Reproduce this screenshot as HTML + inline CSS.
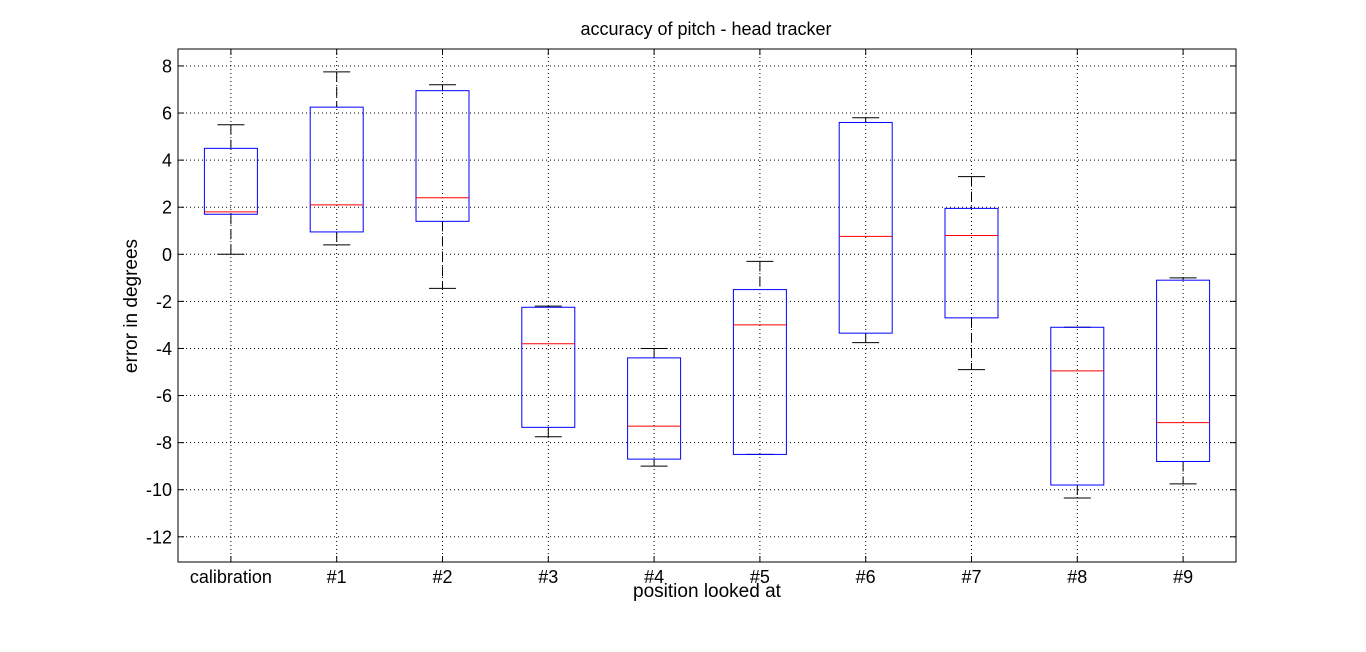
<!DOCTYPE html>
<html><head><meta charset="utf-8"><style>
html,body{margin:0;padding:0;background:#fff;}
svg{display:block;font-family:"Liberation Sans",sans-serif;}
</style></head><body>
<svg id="chart" width="1366" height="652" viewBox="0 0 1366 652" xmlns="http://www.w3.org/2000/svg">
<rect x="0" y="0" width="1366" height="652" fill="#fff"/>
<text x="706" y="35" font-size="18" text-anchor="middle">accuracy of pitch - head tracker</text>
<text x="707" y="597" font-size="19" text-anchor="middle">position looked at</text>
<text transform="translate(137,306) rotate(-90)" font-size="19" text-anchor="middle">error in degrees</text>
<g id="grid"></g>
<g id="boxes"></g>
<g id="axes"></g>
</svg>
<script>
const categories = ["calibration","#1","#2","#3","#4","#5","#6","#7","#8","#9"];
const whiskerLow = [0, 0.4, -1.45, -7.75, -9.0, -8.5, -3.75, -4.9, -10.35, -9.75];
const q1 = [1.7, 0.95, 1.4, -7.35, -8.7, -8.5, -3.35, -2.7, -9.8, -8.8];
const median = [1.8, 2.1, 2.4, -3.8, -7.3, -3.0, 0.76, 0.8, -4.95, -7.15];
const q3 = [4.5, 6.25, 6.95, -2.25, -4.4, -1.5, 5.6, 1.95, -3.1, -1.1];
const whiskerHigh = [5.5, 7.75, 7.2, -2.2, -4.0, -0.3, 5.8, 3.3, -3.1, -1.0];
const yTicks = [8,6,4,2,0,-2,-4,-6,-8,-10,-12];
const yTickLabels = ["8","6","4","2","0","-2","-4","-6","-8","-10","-12"];

const NS="http://www.w3.org/2000/svg";
const L=178,R=1236,T=49,B=562;
const yMin=-13.07,yMax=8.72;
const y=v=>B-(v-yMin)/(yMax-yMin)*(B-T);
const x=i=>L+(i+0.5)/categories.length*(R-L);
function mk(tag,attrs,parent){const e=document.createElementNS(NS,tag);for(const k in attrs)e.setAttribute(k,attrs[k]);parent.appendChild(e);return e;}
const grid=document.getElementById('grid'),boxes=document.getElementById('boxes'),axes=document.getElementById('axes');
yTicks.forEach((t,i)=>{
  const g=mk('line',{x1:L,x2:R,y1:y(t),y2:y(t),stroke:'#000','stroke-width':1,'stroke-dasharray':'1 3'},grid);
  
  
  const tk=mk('line',{x1:L,x2:L+6,y1:y(t),y2:y(t),stroke:'#000'},axes);
  
  
  const tk2=mk('line',{x1:R-6,x2:R,y1:y(t),y2:y(t),stroke:'#000'},axes);
  
  
  const lb=mk('text',{x:L-6,y:y(t)+6.5,'font-size':18,'text-anchor':'end'},axes);
  lb.textContent=yTickLabels[i];
  
  
});
categories.forEach((c,i)=>{
  const cx=x(i);
  const g=mk('line',{x1:cx,x2:cx,y1:T,y2:B,stroke:'#000','stroke-width':1,'stroke-dasharray':'1 3'},grid);
  
  
  const tk=mk('line',{x1:cx,x2:cx,y1:B-6,y2:B,stroke:'#000'},axes);
  
  
  const tk2=mk('line',{x1:cx,x2:cx,y1:T,y2:T+6,stroke:'#000'},axes);
  
  
  const lb=mk('text',{x:cx,y:B+21,'font-size':18,'text-anchor':'middle'},axes);
  lb.textContent=c;
  
  
  const grp=mk('g',{},boxes);
  
  
  const hw=26.5, cw=13.5;
  const w1=mk('line',{x1:cx,x2:cx,y1:y(whiskerHigh[i]),y2:y(q3[i]),stroke:'#000','stroke-dasharray':'10 5'},grp);
  
  
  const w2=mk('line',{x1:cx,x2:cx,y1:y(q1[i]),y2:y(whiskerLow[i]),stroke:'#000','stroke-dasharray':'10 5'},grp);
  
  
  const c1=mk('line',{x1:cx-cw,x2:cx+cw,y1:y(whiskerHigh[i]),y2:y(whiskerHigh[i]),stroke:'#000'},grp);
  
  
  const c2=mk('line',{x1:cx-cw,x2:cx+cw,y1:y(whiskerLow[i]),y2:y(whiskerLow[i]),stroke:'#000'},grp);
  
  
  const bx=mk('rect',{x:cx-hw,y:y(q3[i]),width:2*hw,height:y(q1[i])-y(q3[i]),fill:'none',stroke:'#0000ff','stroke-width':1},grp);
  
  
  const md=mk('line',{x1:cx-hw,x2:cx+hw,y1:y(median[i]),y2:y(median[i]),stroke:'#ff0000'},grp);
  
  
});
const fr=mk('rect',{x:L,y:T,width:R-L,height:B-T,fill:'none',stroke:'#000'},axes);


</script>
</body></html>
